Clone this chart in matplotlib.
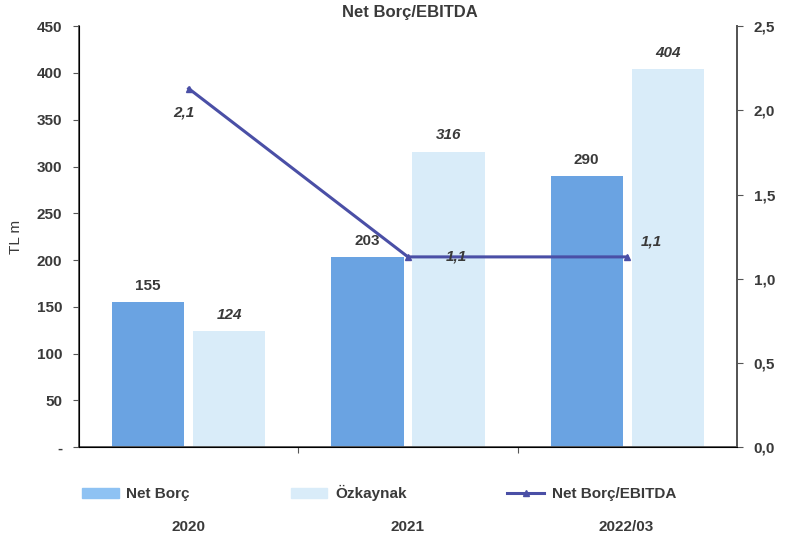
import numpy as np
import matplotlib
matplotlib.use('Agg')
import matplotlib.pyplot as plt
from matplotlib.patches import Patch
from matplotlib.lines import Line2D

# data
years = ['2020', '2021', '2022/03']
net_borc = [155, 203, 290]
ozkaynak = [124, 316, 404]
ratio = [2.13, 1.13, 1.13]
left_ticks = [0, 50, 100, 150, 200, 250, 300, 350, 400, 450]
right_ticks = [0.0, 0.5, 1.0, 1.5, 2.0, 2.5]

plt.rcParams['font.family'] = ['Liberation Sans', 'DejaVu Sans']
txt = '#3a3a3a'
c_net = '#6aa3e2'
c_ozk = '#d9ecf9'
c_line = '#4a4fa6'

fig = plt.figure(figsize=(7.93, 5.46), dpi=100)
ax = fig.add_axes([0.0996, 0.181, 0.8297, 0.771])
x = np.arange(len(years))
w = 0.33
ax.bar(x - 0.185, net_borc, w, color=c_net, zorder=2)
ax.bar(x + 0.185, ozkaynak, w, color=c_ozk, zorder=2)
for xi, v in zip(x, net_borc):
    ax.text(xi - 0.185, v + 10, str(v), ha='center', va='bottom', fontsize=11,
            fontweight='bold', color=txt)
for xi, v in zip(x, ozkaynak):
    ax.text(xi + 0.185, v + 10, str(v), ha='center', va='bottom', fontsize=11,
            fontweight='bold', fontstyle='italic', color=txt)

ax.set_xlim(-0.5, 2.5)
ax.set_ylim(0, 450)
ax.set_yticks(left_ticks)
ax.set_yticklabels(['-'] + [str(t) for t in left_ticks[1:]])
ax.set_ylabel('TL m', fontsize=11, color=txt, labelpad=10)
ax.set_xticks([0.5, 1.5])
ax.set_xticklabels([])
ax.tick_params(axis='x', length=4, color='#555555')
ax.tick_params(axis='y', length=4, color='#555555', labelsize=11, labelcolor=txt, pad=8)
for lb in ax.get_yticklabels():
    lb.set_fontweight('bold')
ax.spines['top'].set_visible(False)
for s in ['left', 'bottom', 'right']:
    ax.spines[s].set_color('#555555')
    ax.spines[s].set_linewidth(1.3)

# ratio on the right axis
ax2 = ax.twinx()
ax2.plot(x, ratio, color=c_line, lw=2.2, marker='^', ms=4, zorder=3)
ax2.set_ylim(0, 2.5)
ax2.set_yticks(right_ticks)
ax2.set_yticklabels([('%.1f' % t).replace('.', ',') for t in right_ticks])
ax2.tick_params(axis='y', length=4, color='#555555', labelsize=11, labelcolor=txt, pad=8)
for lb in ax2.get_yticklabels():
    lb.set_fontweight('bold')
ax2.spines['top'].set_visible(False)
ax2.spines['right'].set_color('#555555')
ax2.spines['right'].set_linewidth(1.3)

lbl_off = [(-0.02, -0.14), (0.22, 0.0), (0.11, 0.09)]
for xi, v, (dx, dy) in zip(x, ratio, lbl_off):
    ax2.text(xi + dx, v + dy, ('%.1f' % v).replace('.', ','), ha='center', va='center',
             fontsize=11, fontweight='bold', fontstyle='italic', color=txt)

# year labels sit below the legend
for xi, yr in zip(x, years):
    fig.text((79 + 219 * xi + 109.5) / 793, 1 - 527 / 546, yr, ha='center', va='center',
             fontsize=11, fontweight='bold', color=txt)

handles = [Patch(color='#8ec2f3'), Patch(color=c_ozk),
           Line2D([], [], color=c_line, lw=2.2, marker='^', ms=4)]
leg = fig.legend(handles, ['Net Borç', 'Özkaynak', 'Net Borç/EBITDA'], loc='center',
                 bbox_to_anchor=(0.478, 1 - 493 / 546), ncol=3, frameon=False,
                 prop={'weight': 'bold', 'size': 11}, columnspacing=6.6,
                 handlelength=2.4, handleheight=0.6, handletextpad=0.5)
for t in leg.get_texts():
    t.set_color(txt)

fig.text(0.517, 1 - 12 / 546, 'Net Borç/EBITDA', ha='center', va='center',
         fontsize=12, fontweight='bold', color=txt)

fig.savefig('out.png', dpi=100)
